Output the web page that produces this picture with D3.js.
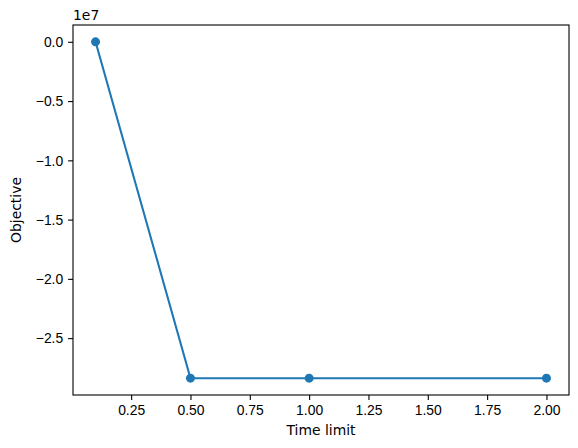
<!DOCTYPE html>
<html>
<head>
<meta charset="utf-8">
<title>Objective vs time limit</title>
<script src="https://cdn.jsdelivr.net/npm/d3@7"></script>
<style>
    html, body { margin: 0; background: #fff; }
    svg { display: block; font-family: "DejaVu Sans", sans-serif; }
    .tick text { font-size: 13.9px; fill: #000; }
    .domain, .tick line { stroke: #000; stroke-width: 1.1; }
</style>
</head>
<body>
<svg width="578" height="448"></svg>
<script>
    var timeLimits = [0.1, 0.5, 1.0, 2.0];
    var objectives = [0, -28380000, -28380000, -28380000];
    var xTicks = [0.25, 0.5, 0.75, 1.0, 1.25, 1.5, 1.75, 2.0];
    var yTicks = [0, -0.5e7, -1e7, -1.5e7, -2e7, -2.5e7];

    var mLeft = 73, mRight = 569, mTop = 25, mBottom = 395;
    var color = "#1f77b4";
    var minus = function(s) { return s.replace("-", "\u2212"); };

    var svg = d3.select("svg");

    // matplotlib style 5% margins
    var xExt = d3.extent(timeLimits), xPad = (xExt[1] - xExt[0]) * 0.05;
    var yExt = d3.extent(objectives), yPad = (yExt[1] - yExt[0]) * 0.05;

    var x = d3.scaleLinear().domain([xExt[0] - xPad, xExt[1] + xPad]).range([mLeft, mRight]);
    var y = d3.scaleLinear().domain([yExt[0] - yPad, yExt[1] + yPad]).range([mBottom, mTop]);

    var xAxis = d3.axisBottom(x).tickValues(xTicks).tickSize(4.9).tickPadding(4.9)
        .tickFormat(d3.format(".2f"));
    var yAxis = d3.axisLeft(y).tickValues(yTicks).tickSize(4.9).tickPadding(4.9)
        .tickFormat(function(d) { return minus(d3.format(".1f")(d / 1e7)); });

    svg.append("g").attr("transform", "translate(0," + mBottom + ")").call(xAxis)
        .call(function(g) { g.select(".domain").remove(); })
        .selectAll("text").attr("dy", "0.75em");
    svg.append("g").attr("transform", "translate(" + mLeft + ",0)").call(yAxis)
        .call(function(g) { g.select(".domain").remove(); })
        .selectAll("text").attr("dy", "0.35em");

    var line = d3.line()
        .x(function(d, i) { return x(timeLimits[i]); })
        .y(function(d) { return y(d); });

    svg.append("path")
        .datum(objectives)
        .attr("fill", "none")
        .attr("stroke", color)
        .attr("stroke-width", 2.08)
        .attr("d", line);

    svg.selectAll("circle.pt")
        .data(objectives)
        .enter().append("circle")
        .attr("class", "pt")
        .attr("cx", function(d, i) { return x(timeLimits[i]); })
        .attr("cy", function(d) { return y(d); })
        .attr("r", 4.5)
        .attr("fill", color);

    // axes frame
    svg.append("rect")
        .attr("x", mLeft).attr("y", mTop)
        .attr("width", mRight - mLeft).attr("height", mBottom - mTop)
        .attr("fill", "none").attr("stroke", "#000").attr("stroke-width", 1.1);

    svg.append("text")
        .attr("x", mLeft).attr("y", mTop - 5)
        .attr("font-size", 13.9)
        .text("1e7");

    svg.append("text")
        .attr("x", (mLeft + mRight) / 2).attr("y", 435)
        .attr("text-anchor", "middle")
        .attr("font-size", 13.9)
        .text("Time limit");

    svg.append("text")
        .attr("transform", "translate(21," + (mTop + mBottom) / 2 + ") rotate(-90)")
        .attr("text-anchor", "middle")
        .attr("font-size", 13.9)
        .text("Objective");
</script>
</body>
</html>
